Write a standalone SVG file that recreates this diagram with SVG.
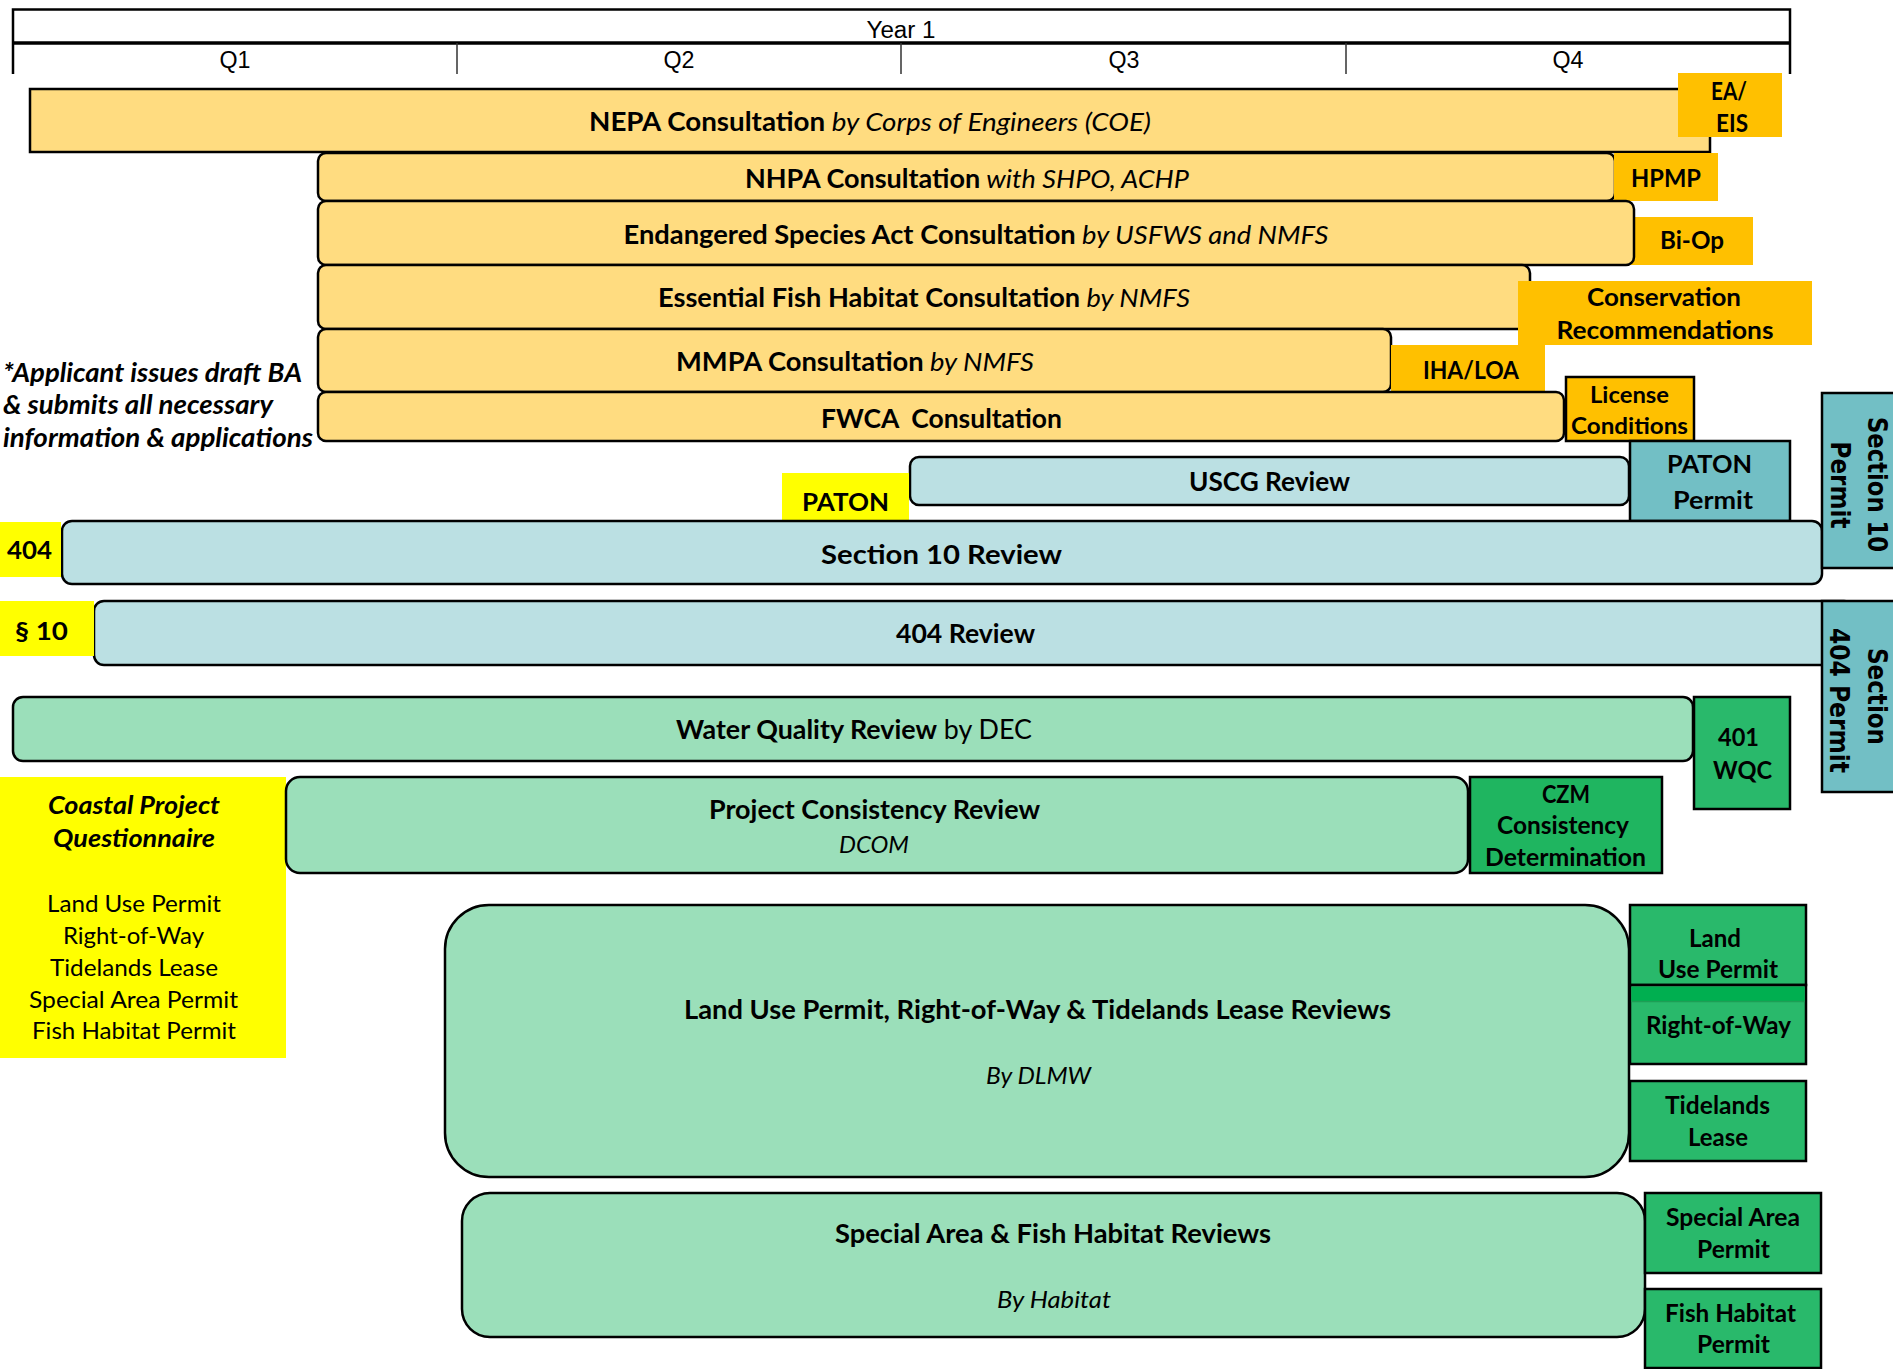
<svg xmlns="http://www.w3.org/2000/svg" width="1893" height="1369" viewBox="0 0 1893 1369">
<style>
text{font-family:Lato,"Open Sans","Liberation Sans",sans-serif;fill:#000}
.c{text-anchor:middle}
.b{font-weight:bold}
.i{font-style:italic}
.n{font-weight:normal}
.bar{font-size:26px}
.s{font-size:25px}
.hd{font-family:"Liberation Sans",Arial,sans-serif;font-size:23px}
.v{font-family:"DejaVu Sans",Verdana,sans-serif;font-weight:bold;font-size:26px;text-anchor:middle}
.ln{stroke:#000;stroke-width:2.5;fill:none}
.con{fill:#FFDC80;stroke:#000;stroke-width:2.5}
.org{fill:#FFC000}
.blu{fill:#BBE0E3;stroke:#000;stroke-width:2.5}
.teal{fill:#72BFC5;stroke:#000;stroke-width:2.5}
.grn{fill:#9BDFBA;stroke:#000;stroke-width:2.5}
.dg{fill:#29B96B;stroke:#000;stroke-width:2.5}
.yel{fill:#FFFF00}
</style>
<g id="header">
<path class="ln" d="M13 74 V9.5 H1790 V74"/>
<path d="M13 43 H1790" stroke="#000" stroke-width="3.5"/>
<path d="M457 43 V74 M901 43 V74 M1346 43 V74" stroke="#333" stroke-width="1.5"/>
<text class="hd c" x="901" y="38" textLength="69" lengthAdjust="spacingAndGlyphs">Year 1</text>
<text class="hd c" x="235" y="68" textLength="31" lengthAdjust="spacingAndGlyphs">Q1</text>
<text class="hd c" x="679" y="68" textLength="31" lengthAdjust="spacingAndGlyphs">Q2</text>
<text class="hd c" x="1124" y="68" textLength="31" lengthAdjust="spacingAndGlyphs">Q3</text>
<text class="hd c" x="1568" y="68" textLength="31" lengthAdjust="spacingAndGlyphs">Q4</text>
</g>
<g id="note">
<text class="b i" font-size="26" x="3" y="382" textLength="299" lengthAdjust="spacingAndGlyphs">*Applicant issues draft BA</text>
<text class="b i" font-size="26" x="3" y="414" textLength="270" lengthAdjust="spacingAndGlyphs">&amp; submits all necessary</text>
<text class="b i" font-size="26" x="3" y="447" textLength="310" lengthAdjust="spacingAndGlyphs">information &amp; applications</text>
</g>
<g id="nepa">
<rect class="con" x="30" y="89" width="1680" height="63"/>
<text class="bar c" x="870" y="131" textLength="562" lengthAdjust="spacingAndGlyphs"><tspan class="b">NEPA Consultation</tspan><tspan class="i"> by Corps of Engineers (COE)</tspan></text>
</g>
<g id="ea-eis">
<rect class="org" x="1678" y="73" width="104" height="64"/>
<text class="s b c" x="1729" y="100" textLength="36" lengthAdjust="spacingAndGlyphs">EA/</text>
<text class="s b c" x="1732" y="132" textLength="32" lengthAdjust="spacingAndGlyphs">EIS</text>
</g>
<g id="nhpa">
<rect class="con" x="318" y="153" width="1297" height="48" rx="8"/>
<text class="bar c" x="967" y="188" textLength="444" lengthAdjust="spacingAndGlyphs"><tspan class="b">NHPA Consultation</tspan><tspan class="i"> with SHPO, ACHP</tspan></text>
</g>
<g id="hpmp">
<rect class="org" x="1614" y="153" width="104" height="48"/>
<text class="s b c" x="1666" y="187" textLength="70" lengthAdjust="spacingAndGlyphs">HPMP</text>
</g>
<g id="biop">
<rect class="org" x="1630" y="217" width="123" height="48"/>
<text class="s b c" x="1692" y="249" textLength="64" lengthAdjust="spacingAndGlyphs">Bi-Op</text>
</g>
<g id="esa">
<rect class="con" x="318" y="201" width="1316" height="64" rx="8"/>
<text class="bar c" x="976" y="244" textLength="705" lengthAdjust="spacingAndGlyphs"><tspan class="b">Endangered Species Act Consultation</tspan><tspan class="i"> by USFWS and NMFS</tspan></text>
</g>
<g id="efh">
<rect class="con" x="318" y="265" width="1212" height="64" rx="8"/>
<text class="bar c" x="924" y="307" textLength="532" lengthAdjust="spacingAndGlyphs"><tspan class="b">Essential Fish Habitat Consultation</tspan><tspan class="i"> by NMFS</tspan></text>
</g>
<g id="conservation">
<rect class="org" x="1518" y="281" width="294" height="64"/>
<text class="s b c" x="1664" y="306" textLength="154" lengthAdjust="spacingAndGlyphs">Conservation</text>
<text class="s b c" x="1665" y="339" textLength="217" lengthAdjust="spacingAndGlyphs">Recommendations</text>
</g>
<g id="mmpa">
<rect class="con" x="318" y="329" width="1073" height="63" rx="8"/>
<text class="bar c" x="855" y="371" textLength="358" lengthAdjust="spacingAndGlyphs"><tspan class="b">MMPA Consultation</tspan><tspan class="i"> by NMFS</tspan></text>
</g>
<g id="iha-loa">
<rect class="org" x="1391" y="345" width="154" height="47"/>
<text class="s b c" x="1471" y="379" textLength="96" lengthAdjust="spacingAndGlyphs">IHA/LOA</text>
</g>
<g id="fwca">
<rect class="con" x="318" y="392" width="1246" height="49" rx="8"/>
<text class="bar b c" x="941.5" y="428" textLength="241" lengthAdjust="spacingAndGlyphs">FWCA&#160; Consultation</text>
</g>
<g id="license">
<rect class="org" x="1566" y="377" width="128" height="64" stroke="#000" stroke-width="2.5"/>
<text class="b c" font-size="23" x="1629.5" y="403" textLength="79" lengthAdjust="spacingAndGlyphs">License</text>
<text class="b c" font-size="23" x="1629.5" y="434" textLength="117" lengthAdjust="spacingAndGlyphs">Conditions</text>
</g>
<g id="paton-permit">
<rect class="teal" x="1630" y="441" width="160" height="80"/>
<text class="b c" font-size="24" x="1709.5" y="473" textLength="85" lengthAdjust="spacingAndGlyphs">PATON</text>
<text class="b c" font-size="24" x="1713" y="509" textLength="80" lengthAdjust="spacingAndGlyphs">Permit</text>
</g>
<g id="uscg">
<rect class="blu" x="910" y="457" width="719" height="48" rx="9"/>
<text class="bar b c" x="1269.5" y="491" textLength="161" lengthAdjust="spacingAndGlyphs">USCG Review</text>
</g>
<g id="paton">
<rect class="yel" x="782" y="473" width="127" height="47"/>
<text class="s b c" x="845.5" y="511" textLength="87" lengthAdjust="spacingAndGlyphs">PATON</text>
</g>
<g id="section10-review">
<rect class="blu" x="62" y="521" width="1760" height="63" rx="10"/>
<text class="bar b c" x="941.5" y="564" textLength="241" lengthAdjust="spacingAndGlyphs">Section 10 Review</text>
</g>
<g id="label-404">
<rect class="yel" x="0" y="522" width="61" height="55"/>
<text class="s b c" x="29.5" y="559" textLength="45" lengthAdjust="spacingAndGlyphs">404</text>
</g>
<g id="section10-permit">
<rect class="teal" x="1822" y="393" width="80" height="175"/>
<text class="v" transform="translate(1868,484.5) rotate(90)" textLength="135" lengthAdjust="spacingAndGlyphs">Section 10</text>
<text class="v" transform="translate(1831,485) rotate(90)" textLength="87" lengthAdjust="spacingAndGlyphs">Permit</text>
</g>
<g id="review-404">
<rect class="blu" x="94" y="601" width="1760" height="64" rx="10"/>
<text class="bar b c" x="965.5" y="643" textLength="139" lengthAdjust="spacingAndGlyphs">404 Review</text>
</g>
<g id="label-s10">
<rect class="yel" x="0" y="601" width="94" height="55"/>
<text class="s b c" x="41.5" y="640" textLength="53" lengthAdjust="spacingAndGlyphs">§ 10</text>
</g>
<g id="section404-permit">
<rect class="teal" x="1822" y="601" width="80" height="191"/>
<text class="v" transform="translate(1868,696.5) rotate(90)" textLength="97" lengthAdjust="spacingAndGlyphs">Section</text>
<text class="v" transform="translate(1830,700.5) rotate(90)" textLength="145" lengthAdjust="spacingAndGlyphs">404 Permit</text>
</g>
<g id="water-quality">
<rect class="grn" x="13" y="697" width="1680" height="64" rx="10"/>
<text class="bar c" x="854" y="739" textLength="356" lengthAdjust="spacingAndGlyphs"><tspan class="b">Water Quality Review</tspan><tspan class="n"> by DEC</tspan></text>
</g>
<g id="wqc-401">
<rect class="dg" x="1694" y="697" width="96" height="112"/>
<text class="s b c" x="1738.5" y="746" textLength="41" lengthAdjust="spacingAndGlyphs">401</text>
<text class="s b c" x="1742.5" y="779" textLength="59" lengthAdjust="spacingAndGlyphs">WQC</text>
</g>
<g id="coastal-questionnaire">
<rect class="yel" x="0" y="777" width="286" height="281"/>
<text class="s b i c" x="134" y="814" textLength="172" lengthAdjust="spacingAndGlyphs">Coastal Project</text>
<text class="s b i c" x="134" y="847" textLength="162" lengthAdjust="spacingAndGlyphs">Questionnaire</text>
<text class="c" font-size="24" x="134" y="912" textLength="174" lengthAdjust="spacingAndGlyphs">Land Use Permit</text>
<text class="c" font-size="24" x="133.5" y="944" textLength="141" lengthAdjust="spacingAndGlyphs">Right-of-Way</text>
<text class="c" font-size="24" x="134" y="976" textLength="168" lengthAdjust="spacingAndGlyphs">Tidelands Lease</text>
<text class="c" font-size="24" x="133.5" y="1008" textLength="209" lengthAdjust="spacingAndGlyphs">Special Area Permit</text>
<text class="c" font-size="24" x="134" y="1039" textLength="204" lengthAdjust="spacingAndGlyphs">Fish Habitat Permit</text>
</g>
<g id="project-consistency">
<rect class="grn" x="286" y="777" width="1182" height="96" rx="14"/>
<text class="bar b c" x="874.5" y="819" textLength="331" lengthAdjust="spacingAndGlyphs">Project Consistency Review</text>
<text class="i c" font-size="24" x="874" y="853" textLength="70" lengthAdjust="spacingAndGlyphs">DCOM</text>
</g>
<g id="czm">
<rect class="dg" x="1470" y="777" width="192" height="96" style="fill:#1FB560"/>
<text class="s b c" x="1566" y="803" textLength="48" lengthAdjust="spacingAndGlyphs">CZM</text>
<text class="s b c" x="1563" y="834" textLength="132" lengthAdjust="spacingAndGlyphs">Consistency</text>
<text class="s b c" x="1565.5" y="866" textLength="161" lengthAdjust="spacingAndGlyphs">Determination</text>
</g>
<g id="land-use-reviews">
<rect class="grn" x="445" y="905" width="1184" height="272" rx="44"/>
<text class="bar b c" x="1037.5" y="1019" textLength="707" lengthAdjust="spacingAndGlyphs">Land Use Permit, Right-of-Way &amp; Tidelands Lease Reviews</text>
<text class="i c" font-size="24" x="1038.5" y="1084" textLength="105" lengthAdjust="spacingAndGlyphs">By DLMW</text>
</g>
<g id="land-use-permit">
<rect class="dg" x="1630" y="905" width="176" height="80"/>
<text class="s b c" x="1715" y="947" textLength="52" lengthAdjust="spacingAndGlyphs">Land</text>
<text class="s b c" x="1718" y="978" textLength="120" lengthAdjust="spacingAndGlyphs">Use Permit</text>
</g>
<g id="right-of-way">
<rect class="dg" x="1630" y="985" width="176" height="79"/>
<rect x="1631.5" y="987" width="173" height="14" fill="#00AF50"/>
<path d="M1631.5 1001.5 H1804.5" stroke="#1E9E55" stroke-width="1.5"/>
<text class="s b c" x="1718.5" y="1034" textLength="145" lengthAdjust="spacingAndGlyphs">Right-of-Way</text>
</g>
<g id="tidelands-lease">
<rect class="dg" x="1630" y="1081" width="176" height="80"/>
<text class="s b c" x="1717.5" y="1114" textLength="105" lengthAdjust="spacingAndGlyphs">Tidelands</text>
<text class="s b c" x="1718" y="1146" textLength="60" lengthAdjust="spacingAndGlyphs">Lease</text>
</g>
<g id="special-area-reviews">
<rect class="grn" x="462" y="1193" width="1183" height="144" rx="28"/>
<text class="bar b c" x="1053" y="1243" textLength="436" lengthAdjust="spacingAndGlyphs">Special Area &amp; Fish Habitat Reviews</text>
<text class="i c" font-size="24" x="1054" y="1308" textLength="114" lengthAdjust="spacingAndGlyphs">By Habitat</text>
</g>
<g id="special-area-permit">
<rect class="dg" x="1645" y="1193" width="176" height="80"/>
<text class="s b c" x="1733" y="1226" textLength="134" lengthAdjust="spacingAndGlyphs">Special Area</text>
<text class="s b c" x="1733.5" y="1258" textLength="73" lengthAdjust="spacingAndGlyphs">Permit</text>
</g>
<g id="fish-habitat-permit">
<rect class="dg" x="1645" y="1289" width="176" height="79"/>
<text class="s b c" x="1730.5" y="1322" textLength="131" lengthAdjust="spacingAndGlyphs">Fish Habitat</text>
<text class="s b c" x="1733.5" y="1353" textLength="73" lengthAdjust="spacingAndGlyphs">Permit</text>
</g>
<g id="connectors"></g>
</svg>
